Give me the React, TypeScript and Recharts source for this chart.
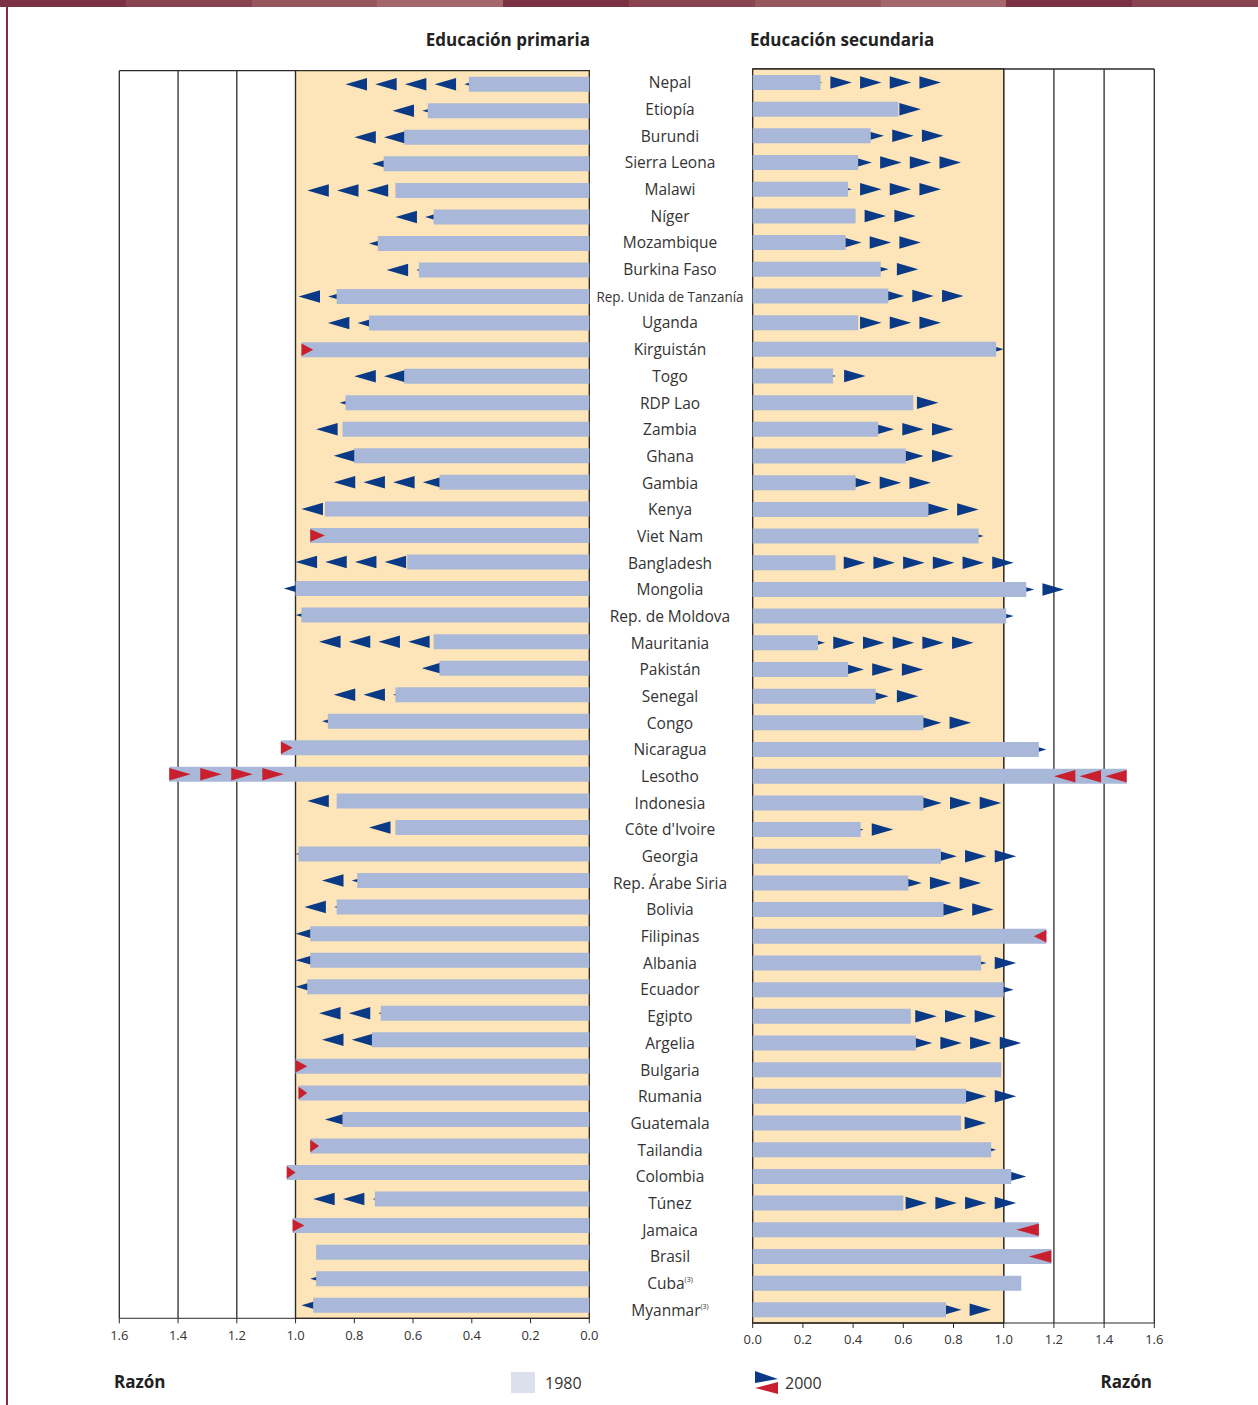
import React from "react";
import {
  ComposedChart,
  Bar,
  XAxis,
  YAxis,
  CartesianGrid,
  ReferenceArea,
} from "recharts";

// Countries, top to bottom
const countries = [
  "Nepal", "Etiopía", "Burundi", "Sierra Leona", "Malawi", "Níger", "Mozambique",
  "Burkina Faso", "Rep. Unida de Tanzanía", "Uganda", "Kirguistán", "Togo", "RDP Lao",
  "Zambia", "Ghana", "Gambia", "Kenya", "Viet Nam", "Bangladesh", "Mongolia",
  "Rep. de Moldova", "Mauritania", "Pakistán", "Senegal", "Congo", "Nicaragua",
  "Lesotho", "Indonesia", "Côte d'Ivoire", "Georgia", "Rep. Árabe Siria", "Bolivia",
  "Filipinas", "Albania", "Ecuador", "Egipto", "Argelia", "Bulgaria", "Rumania",
  "Guatemala", "Tailandia", "Colombia", "Túnez", "Jamaica", "Brasil", "Cuba", "Myanmar",
];

// Educación primaria (razón niñas/niños)
const primary1980 = [
  0.41, 0.55, 0.63, 0.7, 0.66, 0.53, 0.72, 0.58, 0.86, 0.75, 0.98, 0.63, 0.83, 0.84,
  0.8, 0.51, 0.9, 0.95, 0.62, 1.0, 0.98, 0.53, 0.51, 0.66, 0.89, 1.05, 1.43, 0.86,
  0.66, 0.99, 0.79, 0.86, 0.95, 0.95, 0.96, 0.71, 0.74, 1.0, 0.99, 0.84, 0.95, 1.03,
  0.73, 1.01, 0.93, 0.93, 0.94,
];
const primary2000 = [
  0.83, 0.67, 0.8, 0.74, 0.96, 0.66, 0.75, 0.69, 0.99, 0.89, 0.94, 0.8, 0.85, 0.93,
  0.87, 0.87, 0.98, 0.9, 1.0, 1.04, 1.0, 0.92, 0.57, 0.87, 0.91, 1.01, 1.04, 0.96,
  0.75, 1.0, 0.91, 0.97, 1.0, 1.0, 1.0, 0.92, 0.91, 0.96, 0.96, 0.9, 0.92, 1.0,
  0.94, 0.97, 0.93, 0.95, 0.98,
];

// Educación secundaria
const secondary1980 = [
  0.27, 0.58, 0.47, 0.42, 0.38, 0.41, 0.37, 0.51, 0.54, 0.42, 0.97, 0.32, 0.64, 0.5,
  0.61, 0.41, 0.7, 0.9, 0.33, 1.09, 1.01, 0.26, 0.38, 0.49, 0.68, 1.14, 1.49, 0.68,
  0.43, 0.75, 0.62, 0.76, 1.17, 0.91, 1.0, 0.63, 0.65, 0.99, 0.85, 0.83, 0.95, 1.03,
  0.6, 1.14, 1.19, 1.07, 0.77,
];
const secondary2000 = [
  0.75, 0.67, 0.76, 0.83, 0.75, 0.65, 0.67, 0.66, 0.84, 0.75, 1.0, 0.45, 0.74, 0.8,
  0.8, 0.71, 0.9, 0.92, 1.04, 1.24, 1.04, 0.88, 0.68, 0.66, 0.87, 1.17, 1.2, 0.99,
  0.56, 1.05, 0.91, 0.96, 1.12, 1.05, 1.04, 0.97, 1.07, 0.99, 1.05, 0.93, 0.97, 1.09,
  1.05, 1.05, 1.1, 1.07, 0.95,
];

const ticks = [0, 0.2, 0.4, 0.6, 0.8, 1.0, 1.2, 1.4, 1.6];
const withNote = ["Cuba", "Myanmar"];

const rows = countries.map((name, i) => ({
  name,
  p80: primary1980[i],
  p00: primary2000[i],
  pRange: [primary1980[i], primary2000[i]],
  s80: secondary1980[i],
  s00: secondary2000[i],
  sRange: [secondary1980[i], secondary2000[i]],
}));

const BAR = "#a9b8d8";
const BLUE = "#0a3a86";
const RED = "#c8202e";
const SHADE = "#fde4b9";
const GRID = "#2e2a28";
const FONT = "'Open Sans', 'Noto Sans', sans-serif";

const STEP = 29.7; // px between arrow tips
const TRI_LEN = 21.5;
const TRI_H = 12.5;

// repeated arrowheads from the 1980 value to the 2000 value
function arrowShape(from: string, to: string, reversed: boolean) {
  return (props: any) => {
    const { x, y, width, height, payload } = props;
    const a = payload[from];
    const b = payload[to];
    if (width == null || Math.abs(width) < 0.5 || a === b) return <g />;
    const lo = Math.min(x, x + width);
    const hi = Math.max(x, x + width);
    const growing = b > a;
    const rightward = growing !== reversed;
    const dir = rightward ? 1 : -1;
    const tip0 = rightward ? hi : lo;
    const start = rightward ? lo : hi;
    const dist = hi - lo;
    const cy = y + height / 2;
    const polys: React.ReactNode[] = [];
    const tri = (tip: number, len: number, h: number, color: string) => {
      const base = tip - dir * len;
      polys.push(
        <polygon
          key={tip}
          points={`${tip},${cy} ${base},${cy - h} ${base},${cy + h}`}
          fill={color}
        />
      );
    };
    if (growing) {
      // blue: tips every STEP back from the 2000 value, last one cut at the bar
      for (let tip = tip0; (tip - start) * dir > 0.3; tip -= dir * STEP) {
        const len = Math.min(TRI_LEN, (tip - start) * dir);
        tri(tip, len, (TRI_H / 2) * (len / TRI_LEN), BLUE);
      }
    } else {
      // red: full height heads spread evenly over the decrease
      const n = Math.max(1, Math.ceil(dist / STEP - 0.05));
      if (n === 1) {
        tri(tip0, Math.min(dist, 23), TRI_H / 2, RED);
      } else {
        const len = Math.min(TRI_LEN, dist / n);
        const gap = (dist - len) / (n - 1);
        for (let k = 0; k < n; k++) tri(tip0 - dir * k * gap, len, TRI_H / 2, RED);
      }
    }
    return <g>{polys}</g>;
  };
}

const CountryTick = (props: any) => {
  const { x, y, payload } = props;
  const label: string = payload.value;
  const isTz = label === "Rep. Unida de Tanzanía";
  return (
    <text
      x={x - 82.7}
      y={y}
      dy={6}
      textAnchor="middle"
      fontSize={isTz ? 15 : 15.5}
      fill="#333"
      fontFamily={FONT}
      {...(isTz ? { textLength: 147, lengthAdjust: "spacingAndGlyphs" } : {})}
    >
      {label}
      {withNote.includes(label) && (
        <tspan fontSize={7} dy={-7}>
          (3)
        </tspan>
      )}
    </text>
  );
};

const tickStyle = { fontSize: 13, fill: "#333", fontFamily: FONT };
const fmt = (v: number) => v.toFixed(1);
const topBorder = (p: any) => [p.offset.top];

function PrimaryChart() {
  return (
    <ComposedChart
      width={600}
      height={1360}
      data={rows}
      layout="vertical"
      margin={{ top: 70.7, right: 10.7, bottom: 11.7, left: 119.3 }}
      barGap={-15}
    >
      <ReferenceArea x1={0} x2={1} fill={SHADE} fillOpacity={1} stroke={GRID} strokeWidth={1.3} />
      <CartesianGrid
        stroke={GRID}
        strokeWidth={1.3}
        horizontalCoordinatesGenerator={topBorder}
      />
      <XAxis
        type="number"
        domain={[0, 1.6]}
        ticks={ticks}
        reversed
        tickFormatter={fmt}
        tick={tickStyle}
        tickSize={5}
        tickMargin={7}
        height={30}
        stroke={GRID}
      />
      <YAxis type="category" dataKey="name" hide />
      <Bar dataKey="p80" fill={BAR} barSize={15} isAnimationActive={false} />
      <Bar
        dataKey="pRange"
        barSize={15}
        isAnimationActive={false}
        shape={arrowShape("p80", "p00", true)}
      />
    </ComposedChart>
  );
}

function SecondaryChart() {
  return (
    <ComposedChart
      width={668}
      height={1360}
      data={rows}
      layout="vertical"
      margin={{ top: 69, right: 103.7, bottom: 7, left: 0 }}
      barGap={-15}
    >
      <ReferenceArea x1={0} x2={1} fill={SHADE} fillOpacity={1} stroke={GRID} strokeWidth={1.3} />
      <CartesianGrid
        stroke={GRID}
        strokeWidth={1.3}
        horizontalCoordinatesGenerator={topBorder}
      />
      <XAxis
        type="number"
        domain={[0, 1.6]}
        ticks={ticks}
        tickFormatter={fmt}
        tick={tickStyle}
        tickSize={5}
        tickMargin={7}
        height={30}
        stroke={GRID}
      />
      <YAxis
        type="category"
        dataKey="name"
        width={162.7}
        interval={0}
        tickSize={0}
        tickMargin={0}
        axisLine={false}
        tickLine={false}
        tick={<CountryTick />}
      />
      <Bar dataKey="s80" fill={BAR} barSize={15} isAnimationActive={false} />
      <Bar
        dataKey="sRange"
        barSize={15}
        isAnimationActive={false}
        shape={arrowShape("s80", "s00", false)}
      />
    </ComposedChart>
  );
}

const bandColors = ["#7b3141", "#8a4450", "#98565f", "#a5676e"];

export default function App() {
  return (
    <div
      style={{
        position: "absolute",
        left: 0,
        top: 0,
        width: 1258,
        height: 1405,
        background: "#fff",
        fontFamily: FONT,
        overflow: "hidden",
      }}
    >
      {/* decorative band */}
      <div style={{ position: "absolute", left: 0, top: 0, width: 1258, height: 7, display: "flex" }}>
        {Array.from({ length: 10 }).map((_, i) => (
          <div key={i} style={{ flex: 1, background: bandColors[i % 4] }} />
        ))}
      </div>
      <div style={{ position: "absolute", left: 6, top: 0, width: 2, height: 1405, background: "#7b3141" }} />

      <div
        style={{
          position: "absolute", left: 0, top: 28, width: 590, textAlign: "right",
          fontWeight: 700, fontSize: 17, color: "#222",
        }}
      >
        Educación primaria
      </div>
      <div
        style={{
          position: "absolute", left: 750, top: 28,
          fontWeight: 700, fontSize: 17, color: "#222",
        }}
      >
        Educación secundaria
      </div>

      <div style={{ position: "absolute", left: 0, top: 0 }}>
        <PrimaryChart />
      </div>
      <div style={{ position: "absolute", left: 590, top: 0 }}>
        <SecondaryChart />
      </div>

      {/* legend */}
      <div style={{ position: "absolute", left: 114, top: 1370, fontWeight: 700, fontSize: 17, color: "#222" }}>
        Razón
      </div>
      <div style={{ position: "absolute", left: 511, top: 1372, width: 24, height: 21, background: "#dcdfec" }} />
      <div style={{ position: "absolute", left: 545, top: 1372, fontSize: 16, color: "#333" }}>1980</div>
      <svg style={{ position: "absolute", left: 754, top: 1371 }} width={26} height={24}>
        <polygon points="1,0 24,8 1,12" fill={BLUE} />
        <polygon points="24,11 1,17 24,23" fill={RED} />
      </svg>
      <div style={{ position: "absolute", left: 785, top: 1372, fontSize: 16, color: "#333" }}>2000</div>
      <div
        style={{
          position: "absolute", left: 1000, width: 152, textAlign: "right", top: 1370,
          fontWeight: 700, fontSize: 17, color: "#222",
        }}
      >
        Razón
      </div>
    </div>
  );
}
